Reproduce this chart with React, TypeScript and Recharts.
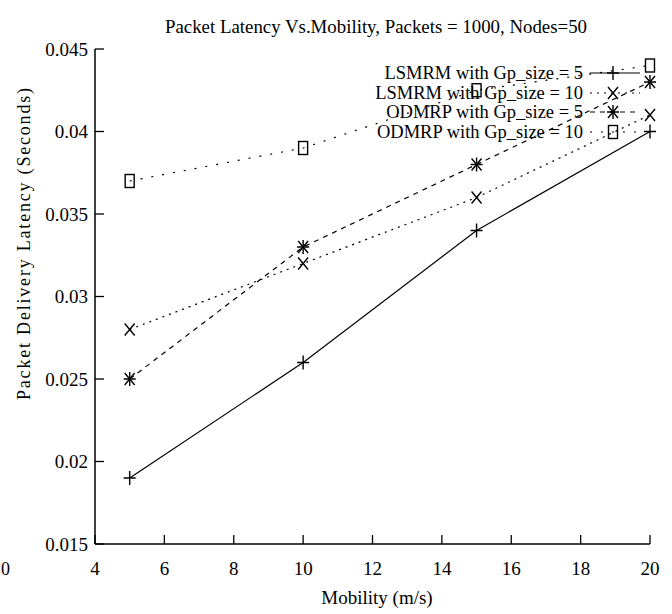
import React from 'react'
import { LineChart, Line, XAxis, YAxis, Legend } from 'recharts'

const mobility = [5, 10, 15, 20]
const lsmrm5 = [0.019, 0.026, 0.034, 0.04]
const lsmrm10 = [0.028, 0.032, 0.036, 0.041]
const odmrp5 = [0.025, 0.033, 0.038, 0.043]
const odmrp10 = [0.037, 0.039, 0.0425, 0.044]

const xTicks = [4, 6, 8, 10, 12, 14, 16, 18, 20]
const yTicks = [0.015, 0.02, 0.025, 0.03, 0.035, 0.04, 0.045]

const seriesNames = [
  'LSMRM with Gp_size = 5',
  'LSMRM with Gp_size = 10',
  'ODMRP with Gp_size = 5',
  'ODMRP with Gp_size = 10',
]

const data = mobility.map((m, i) => ({
  mobility: m,
  lsmrm5: lsmrm5[i],
  lsmrm10: lsmrm10[i],
  odmrp5: odmrp5[i],
  odmrp10: odmrp10[i],
}))

const FONT = '"Liberation Serif", "DejaVu Serif", serif'
const INK = '#000'
const TICK_LEN = 9

type Shape = 'plus' | 'cross' | 'star' | 'square'

const Marker = ({ cx, cy, shape }: { cx: number; cy: number; shape: Shape }) => {
  const sw = 1.4
  if (shape === 'square') {
    return <rect x={cx - 4.5} y={cy - 6.5} width={9} height={13} fill="none" stroke={INK} strokeWidth={sw} />
  }
  const plus = (
    <path d={`M${cx - 6},${cy}H${cx + 6}M${cx},${cy - 7}V${cy + 7}`} stroke={INK} strokeWidth={sw} />
  )
  const cross = (
    <path
      d={`M${cx - 5},${cy - 6}L${cx + 5},${cy + 6}M${cx - 5},${cy + 6}L${cx + 5},${cy - 6}`}
      stroke={INK}
      strokeWidth={sw}
    />
  )
  if (shape === 'plus') return plus
  if (shape === 'cross') return cross
  return (
    <g>
      {plus}
      {cross}
    </g>
  )
}

const makeDot = (shape: Shape) => (props: any) => {
  const { cx, cy, index } = props
  return (
    <g key={`${shape}-${index}`}>
      <Marker cx={cx} cy={cy} shape={shape} />
    </g>
  )
}

// inward ticks, gnuplot style
const BottomTick = (props: any) => {
  const { x, y, payload } = props
  const axisY = y - 26
  return (
    <g>
      <line x1={x} x2={x} y1={axisY} y2={axisY - TICK_LEN} stroke={INK} strokeWidth={1.3} />
      <text x={x} y={y + 5} textAnchor="middle" fontFamily={FONT} fontSize={19} fill={INK}>
        {payload.value}
      </text>
    </g>
  )
}

const LeftTick = (props: any) => {
  const { x, y, payload } = props
  const axisX = x + 7
  return (
    <g>
      <line x1={axisX} x2={axisX + TICK_LEN} y1={y} y2={y} stroke={INK} strokeWidth={1.3} />
      <text x={x} y={y + 6.5} textAnchor="end" fontFamily={FONT} fontSize={19} fill={INK}>
        {payload.value}
      </text>
    </g>
  )
}

const TopTick = (props: any) => {
  const { x, y } = props
  return <line x1={x} x2={x} y1={y} y2={y + TICK_LEN} stroke={INK} strokeWidth={1.3} />
}

const RightTick = (props: any) => {
  const { x, y } = props
  return <line x1={x} x2={x - TICK_LEN} y1={y} y2={y} stroke={INK} strokeWidth={1.3} />
}

const series: { key: string; shape: Shape; dash?: string }[] = [
  { key: 'lsmrm5', shape: 'plus' },
  { key: 'lsmrm10', shape: 'cross', dash: '2 5' },
  { key: 'odmrp5', shape: 'star', dash: '5 5' },
  { key: 'odmrp10', shape: 'square', dash: '2 9' },
]

const LegendBox = () => (
  <svg width={300} height={90} style={{ overflow: 'visible' }}>
    {series.map((s, i) => {
      const y = [13, 33, 52, 72][i]
      return (
        <g key={s.key}>
          <text x={223} y={y + 6} textAnchor="end" fontFamily={FONT} fontSize={18.5} fill={INK}>
            {seriesNames[i]}
          </text>
          <line x1={230} x2={280} y1={y} y2={y} stroke={INK} strokeWidth={1.2} strokeDasharray={s.dash} />
          <Marker cx={253} cy={y} shape={s.shape} />
        </g>
      )
    })}
  </svg>
)

const App: React.FC = () => {
  return (
    <div style={{ position: 'absolute', left: 0, top: 0, width: 672, height: 614, background: '#fff' }}>
      <LineChart width={672} height={614} data={data} margin={{ top: 49, right: 22, left: 35, bottom: 20 }}>
        <XAxis
          dataKey="mobility"
          type="number"
          domain={[4, 20]}
          ticks={xTicks}
          height={50}
          stroke={INK}
          strokeWidth={1.5}
          tickLine={false}
          tickSize={0}
          tickMargin={26}
          tick={BottomTick}
        />
        <XAxis
          xAxisId="top"
          orientation="top"
          type="number"
          domain={[4, 20]}
          ticks={xTicks}
          height={0}
          stroke={INK}
          strokeWidth={1.5}
          tickLine={false}
          tickSize={0}
          tickMargin={0}
          tick={TopTick}
        />
        <YAxis
          type="number"
          domain={[0.015, 0.045]}
          ticks={yTicks}
          width={60}
          stroke={INK}
          strokeWidth={1.5}
          tickLine={false}
          tickSize={0}
          tickMargin={7}
          tick={LeftTick}
        />
        <YAxis
          yAxisId="right"
          orientation="right"
          type="number"
          domain={[0.015, 0.045]}
          ticks={yTicks}
          width={0}
          stroke={INK}
          strokeWidth={1.5}
          tickLine={false}
          tickSize={0}
          tickMargin={0}
          tick={RightTick}
        />
        <Legend
          layout="vertical"
          align="center"
          verticalAlign="middle"
          content={() => <LegendBox />}
          wrapperStyle={{ position: 'absolute', left: 360, top: 60, width: 300, height: 90 }}
        />
        {series.map((s) => (
          <Line
            key={s.key}
            type="linear"
            dataKey={s.key}
            stroke={INK}
            strokeWidth={1.2}
            strokeDasharray={s.dash}
            dot={makeDot(s.shape)}
            activeDot={false}
            isAnimationActive={false}
          />
        ))}
      </LineChart>
      <svg
        width={672}
        height={614}
        style={{ position: 'absolute', left: 0, top: 0, pointerEvents: 'none', overflow: 'hidden' }}
      >
        <text
          x={376}
          y={33}
          textAnchor="middle"
          fontFamily={FONT}
          fontSize={19}
          fill={INK}
          textLength={422}
          lengthAdjust="spacingAndGlyphs"
        >
          Packet Latency Vs.Mobility, Packets = 1000, Nodes=50
        </text>
        <text
          transform="translate(30,244) rotate(-90)"
          textAnchor="middle"
          fontFamily={FONT}
          fontSize={18}
          fill={INK}
          textLength={312}
          lengthAdjust="spacing"
        >
          Packet Delivery Latency (Seconds)
        </text>
        <text x={377} y={604} textAnchor="middle" fontFamily={FONT} fontSize={19} fill={INK}>
          Mobility (m/s)
        </text>
        <text x={1} y={575} fontFamily={FONT} fontSize={18} fill={INK}>
          0
        </text>
      </svg>
    </div>
  )
}

export default App
